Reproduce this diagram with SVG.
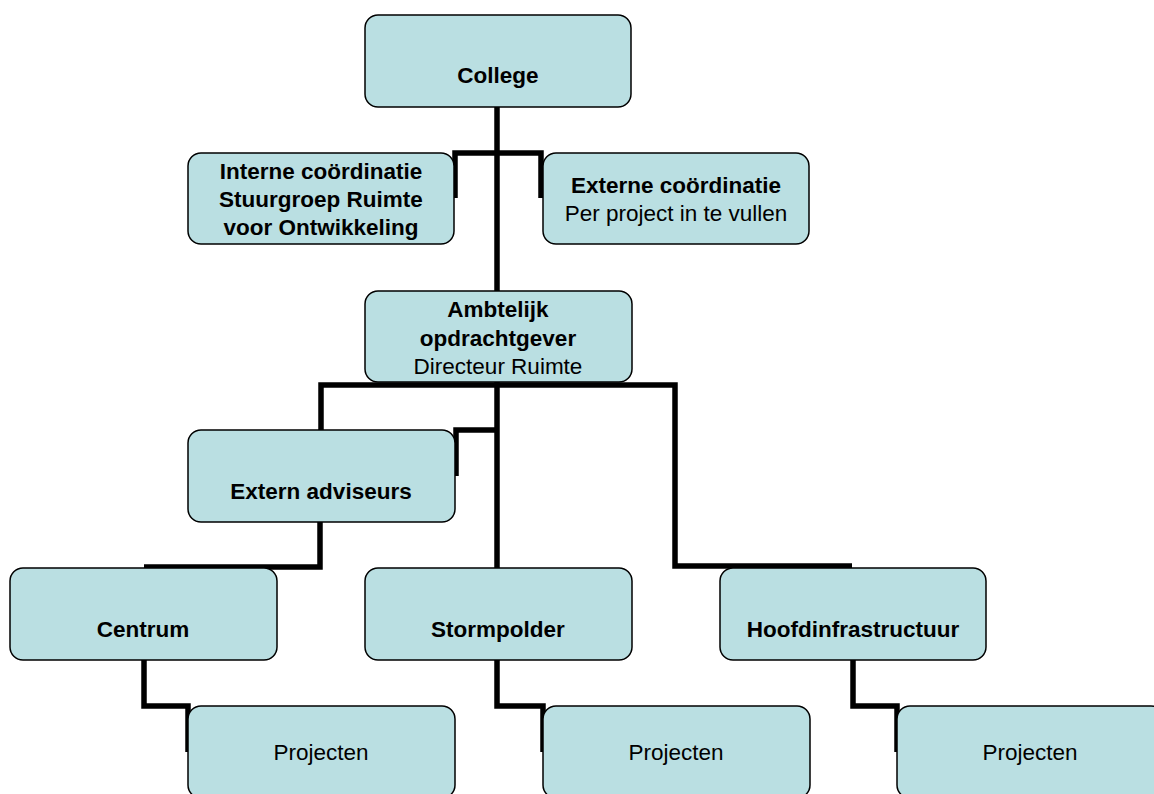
<svg xmlns="http://www.w3.org/2000/svg" width="1154" height="794" viewBox="0 0 1154 794">
<style>
.box{fill:#badfe2;stroke:#000;stroke-width:1.5}
.c{fill:none;stroke:#000;stroke-width:5.5;stroke-linejoin:miter}
text{font-family:"Liberation Sans",Arial,sans-serif;font-size:22.5px;fill:#000;text-anchor:middle}
.b{font-weight:bold}
</style>
<rect width="1154" height="794" fill="#fff"/>
<g id="connectors">
<path class="c" d="M497,107 V291"/>
<path class="c" d="M455,198 V153 H541 V198"/>
<path class="c" d="M497,382 V568"/>
<path class="c" d="M321,430 V385 H675 V566 H852"/>
<path class="c" d="M497,430 H456 V476"/>
<path class="c" d="M320,522 V567 H144"/>
<path class="c" d="M144,660 V706 H188 V752"/>
<path class="c" d="M497,660 V706 H543 V752"/>
<path class="c" d="M853,660 V706 H897 V752"/>
</g>
<g id="college"><rect class="box" x="365" y="15" width="266" height="92" rx="13"/><text class="b" x="498" y="83">College</text></g>
<g id="interne"><rect class="box" x="188" y="153" width="266" height="91" rx="13"/><text class="b" x="321" y="179">Interne coördinatie</text><text class="b" x="321" y="207">Stuurgroep Ruimte</text><text class="b" x="321" y="235">voor Ontwikkeling</text></g>
<g id="externe"><rect class="box" x="543" y="153" width="266" height="91" rx="13"/><text class="b" x="676" y="193">Externe coördinatie</text><text x="676" y="221">Per project in te vullen</text></g>
<g id="ambtelijk"><rect class="box" x="365" y="291" width="267" height="91" rx="13"/><text class="b" x="498" y="317">Ambtelijk</text><text class="b" x="498" y="346">opdrachtgever</text><text x="498" y="374">Directeur Ruimte</text></g>
<g id="extern-adviseurs"><rect class="box" x="188" y="430" width="267" height="92" rx="13"/><text class="b" x="321" y="499">Extern adviseurs</text></g>
<g id="centrum"><rect class="box" x="10" y="568" width="267" height="92" rx="13"/><text class="b" x="143" y="637">Centrum</text></g>
<g id="stormpolder"><rect class="box" x="365" y="568" width="267" height="92" rx="13"/><text class="b" x="498" y="637">Stormpolder</text></g>
<g id="hoofdinfrastructuur"><rect class="box" x="720" y="568" width="266" height="92" rx="13"/><text class="b" x="853" y="637">Hoofdinfrastructuur</text></g>
<g id="projecten-centrum"><rect class="box" x="188" y="706" width="267" height="92" rx="13"/><text x="321" y="760">Projecten</text></g>
<g id="projecten-stormpolder"><rect class="box" x="543" y="706" width="267" height="92" rx="13"/><text x="676" y="760">Projecten</text></g>
<g id="projecten-hoofd"><rect class="box" x="897" y="706" width="267" height="92" rx="13"/><text x="1030" y="760">Projecten</text></g>
</svg>
